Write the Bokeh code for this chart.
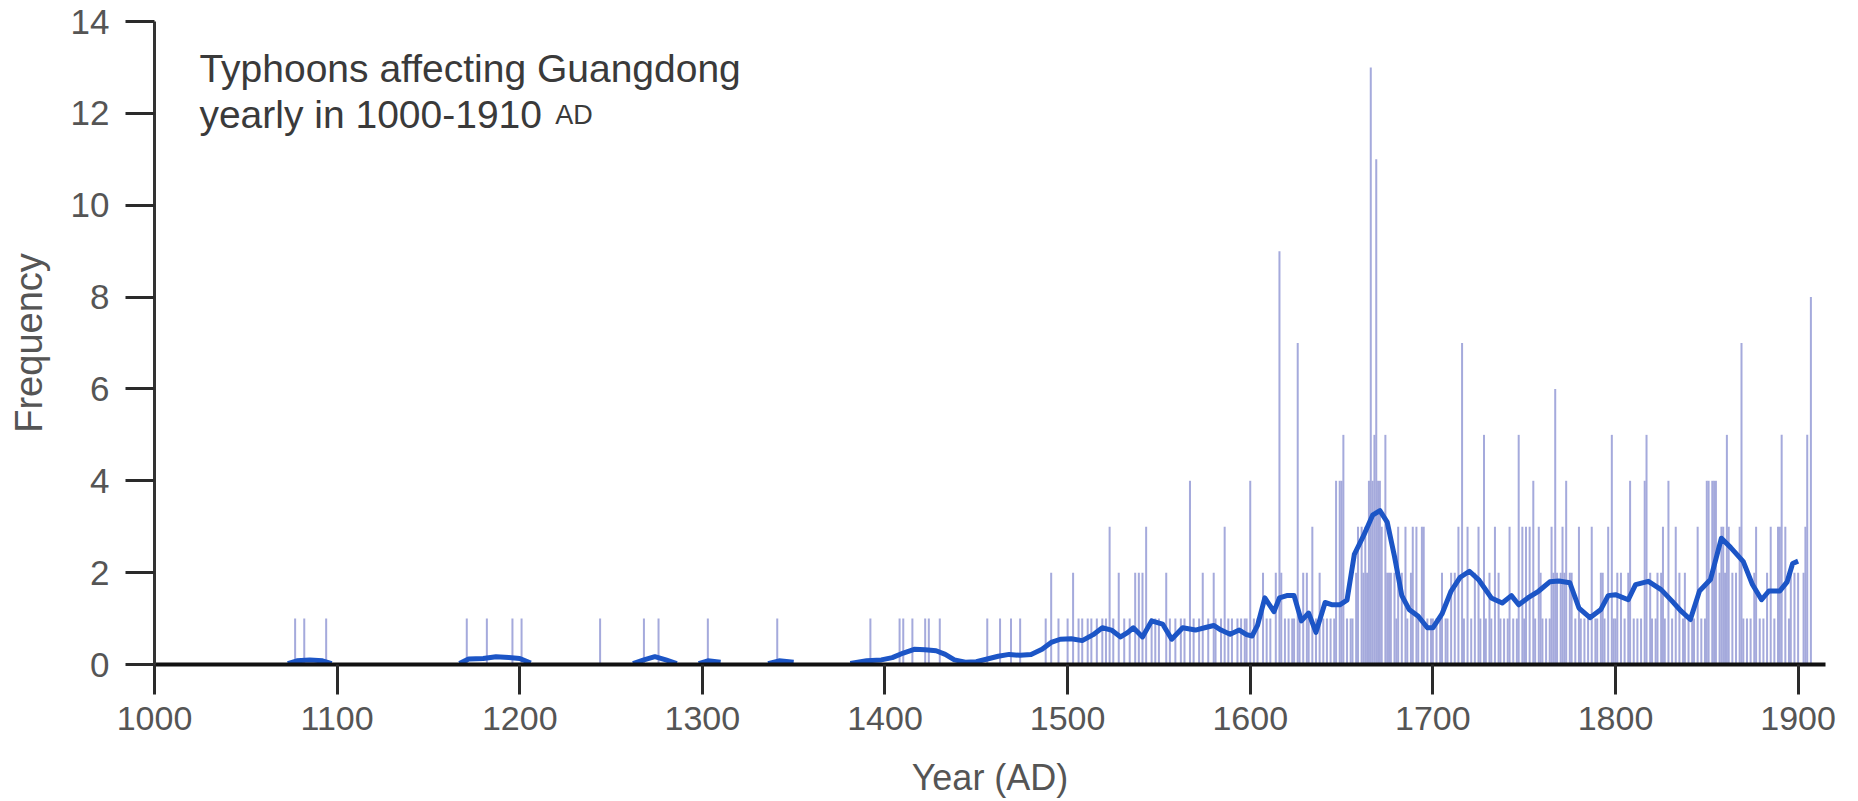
from bokeh.plotting import figure
from bokeh.models import Label, FixedTicker, ColumnDataSource
from bokeh.embed import file_html
from bokeh.resources import INLINE

# ---- data ----
x_ticks = [1000, 1100, 1200, 1300, 1400, 1500, 1600, 1700, 1800, 1900]
y_ticks = [0, 2, 4, 6, 8, 10, 12, 14]

years_early = [1077, 1082, 1094, 1171, 1182, 1196, 1201, 1244, 1268, 1276, 1303, 1341, 1392,
               1408, 1410, 1415, 1422, 1424, 1430, 1456, 1463, 1469, 1474, 1488, 1491, 1495]
counts_early = [1, 1, 1, 1, 1, 1, 1, 1, 1, 1, 1, 1, 1,
                1, 1, 1, 1, 1, 1, 1, 1, 1, 1, 1, 2, 1]

years_1500 = [1500, 1503, 1506, 1508, 1511, 1513, 1516, 1519, 1521, 1523, 1525, 1528, 1531, 1534,
              1537, 1539, 1541, 1543, 1546, 1548, 1550, 1554, 1556, 1559, 1562, 1564, 1567, 1569,
              1572, 1574, 1577, 1580, 1581, 1584, 1586, 1588, 1590, 1593, 1595, 1597, 1598]
counts_1500 = [1, 2, 1, 1, 1, 1, 1, 1, 1, 3, 1, 2, 1, 1,
               2, 2, 2, 3, 1, 1, 1, 2, 1, 1, 1, 1, 4, 1,
               1, 2, 1, 2, 1, 1, 3, 1, 1, 1, 1, 1, 1]

years_1600 = [1600, 1602, 1604, 1607, 1609, 1611, 1614, 1616, 1617, 1619, 1621, 1623, 1624, 1626,
              1627, 1629, 1631, 1632, 1634, 1636, 1638, 1640, 1642, 1644, 1646, 1647, 1649, 1650,
              1651, 1653, 1655, 1656, 1658, 1659, 1661, 1662, 1663, 1664, 1665, 1666, 1667, 1668,
              1669, 1670, 1671, 1672, 1674, 1675, 1676, 1677, 1679, 1680, 1681, 1683, 1685, 1686,
              1688, 1689, 1691, 1692, 1694, 1695, 1697, 1699]
counts_1600 = [4, 1, 1, 2, 1, 1, 2, 9, 2, 1, 1, 1, 1, 7,
               1, 2, 2, 1, 3, 1, 2, 1, 1, 1, 1, 4, 4, 4,
               5, 1, 1, 1, 2, 3, 3, 2, 3, 2, 4, 13, 4, 5,
               11, 4, 4, 3, 5, 2, 2, 2, 2, 1, 3, 2, 3, 1,
               2, 3, 3, 1, 3, 3, 1, 1]

years_1700 = [1700, 1702, 1704, 1705, 1707, 1708, 1710, 1712, 1714, 1716, 1717, 1719, 1721, 1723,
              1725, 1726, 1728, 1729, 1731, 1732, 1734, 1736, 1737, 1739, 1741, 1742, 1744, 1746,
              1747, 1749, 1750, 1751, 1753, 1755, 1756, 1758, 1759, 1760, 1762, 1764, 1765, 1766,
              1767, 1768, 1770, 1771, 1772, 1773, 1775, 1776, 1778, 1780, 1781, 1783, 1785, 1787,
              1789, 1790, 1792, 1793, 1794, 1796, 1798, 1799]
counts_1700 = [1, 1, 1, 2, 1, 1, 2, 2, 3, 7, 1, 3, 1, 2,
               3, 1, 5, 1, 2, 1, 3, 2, 1, 1, 1, 3, 1, 1,
               5, 3, 1, 3, 3, 4, 1, 3, 2, 1, 1, 1, 3, 2,
               6, 2, 2, 3, 2, 4, 2, 2, 1, 3, 1, 1, 1, 3,
               1, 1, 2, 2, 1, 3, 5, 1]

years_1800 = [1800, 1801, 1803, 1805, 1807, 1808, 1810, 1812, 1814, 1816, 1817, 1819, 1820, 1822,
              1823, 1825, 1826, 1827, 1829, 1831, 1833, 1835, 1837, 1838, 1840, 1842, 1843, 1845,
              1847, 1849, 1850, 1851, 1853, 1854, 1855, 1857, 1858, 1859, 1860, 1861, 1862, 1864,
              1866, 1868, 1869, 1870, 1872, 1874, 1876, 1877, 1879, 1881, 1883, 1885, 1887, 1889,
              1890, 1891, 1893, 1895, 1896, 1898, 1900, 1903, 1904, 1905, 1907]
counts_1800 = [1, 2, 2, 1, 2, 4, 1, 1, 1, 4, 5, 2, 1, 1,
               2, 2, 3, 1, 4, 1, 3, 2, 1, 2, 1, 1, 1, 3,
               1, 1, 4, 4, 4, 4, 4, 2, 3, 3, 2, 5, 3, 2,
               2, 3, 7, 1, 1, 1, 2, 3, 1, 1, 2, 3, 1, 3,
               3, 5, 3, 1, 2, 2, 2, 2, 3, 5, 8]

# smoothed curve (NaN = no visible curve)
nan = float("nan")
smooth_years = [1073, 1078, 1085, 1092, 1097, 1098,
                1167, 1172, 1180, 1187, 1194, 1200, 1206, 1207,
                1262, 1268, 1274, 1280, 1286, 1287,
                1298, 1303, 1310, 1311,
                1336, 1342, 1350, 1351,
                1381, 1390, 1398, 1404, 1410, 1416, 1422, 1428, 1433, 1438, 1444, 1450, 1456,
                1462, 1468, 1474, 1480, 1486, 1491, 1496, 1502, 1508, 1514, 1519, 1524, 1529,
                1533, 1536, 1541, 1546, 1552, 1557, 1563, 1570, 1575, 1580, 1584, 1589, 1594,
                1598, 1601, 1604, 1608, 1613, 1616, 1620, 1624, 1628, 1632, 1636, 1641, 1645,
                1649, 1653, 1657, 1662, 1667, 1671, 1675, 1679, 1683, 1687, 1692, 1697, 1700,
                1705, 1710, 1715, 1720, 1725, 1732, 1738, 1743, 1747, 1752, 1758, 1764, 1769,
                1775, 1780, 1786, 1792, 1796, 1800, 1807, 1811, 1818, 1825, 1831, 1836, 1841,
                1846, 1852, 1858, 1863, 1870, 1875, 1880, 1884, 1890, 1894, 1897, 1900]
smooth_values = [0.02, 0.08, 0.10, 0.08, 0.02, nan,
                 0.02, 0.12, 0.13, 0.17, 0.15, 0.13, 0.03, nan,
                 0.02, 0.10, 0.17, 0.10, 0.02, nan,
                 0.02, 0.08, 0.05, nan,
                 0.02, 0.08, 0.05, nan,
                 0.02, 0.08, 0.10, 0.15, 0.25, 0.33, 0.32, 0.30, 0.22, 0.10, 0.05, 0.06, 0.12,
                 0.18, 0.22, 0.20, 0.22, 0.33, 0.48, 0.55, 0.56, 0.52, 0.65, 0.80, 0.75, 0.60,
                 0.70, 0.80, 0.60, 0.95, 0.88, 0.55, 0.80, 0.75, 0.80, 0.85, 0.75, 0.66, 0.75,
                 0.65, 0.62, 0.85, 1.45, 1.15, 1.45, 1.50, 1.50, 0.95, 1.12, 0.70, 1.35, 1.30,
                 1.30, 1.40, 2.40, 2.80, 3.25, 3.35, 3.10, 2.35, 1.50, 1.20, 1.05, 0.80, 0.80,
                 1.10, 1.60, 1.90, 2.03, 1.85, 1.45, 1.34, 1.50, 1.30, 1.45, 1.60, 1.80, 1.82,
                 1.78, 1.23, 1.02, 1.20, 1.50, 1.52, 1.41, 1.74, 1.81, 1.63, 1.38, 1.16, 0.98,
                 1.60, 1.85, 2.75, 2.55, 2.24, 1.74, 1.41, 1.60, 1.60, 1.80, 2.20, 2.25]

bar_years = years_early + years_1500 + years_1600 + years_1700 + years_1800
bar_counts = counts_early + counts_1500 + counts_1600 + counts_1700 + counts_1800

FONT = "Liberation Sans"

p = figure(width=1850, height=800, x_range=(1000, 1915), y_range=(0, 14),
           output_backend="svg", toolbar_location=None,
           min_border_left=154, min_border_right=25, min_border_top=21, min_border_bottom=133,
           background_fill_color="white", border_fill_color="white")
p.outline_line_color = None
p.xgrid.grid_line_color = None
p.ygrid.grid_line_color = None

bars = ColumnDataSource(dict(x=bar_years, top=bar_counts))
p.vbar(x="x", top="top", bottom=0, width=1.1, source=bars,
       fill_color="#a0a5da", line_color=None, fill_alpha=0.95)

p.line(smooth_years, smooth_values, line_color="#1c55c6", line_width=5, line_join="round")

# axes
p.xaxis.ticker = FixedTicker(ticks=x_ticks)
p.yaxis.ticker = FixedTicker(ticks=y_ticks)
for ax in (p.xaxis[0], p.yaxis[0]):
    ax.minor_tick_line_color = None
    ax.major_tick_in = 0
    ax.major_tick_line_width = 3
    ax.major_tick_line_color = "#2a2a2a"
    ax.major_label_text_font = FONT
    ax.major_label_text_color = "#555555"
    ax.axis_label_text_font = FONT
    ax.axis_label_text_font_style = "normal"
    ax.axis_label_text_color = "#555555"

p.xaxis.axis_line_width = 4
p.xaxis.axis_line_color = "#111111"
p.xaxis.major_tick_out = 30
p.xaxis.major_label_standoff = 12
p.xaxis.major_label_text_font_size = "34px"
p.xaxis.axis_label = "Year (AD)"
p.xaxis.axis_label_text_font_size = "36px"
p.xaxis.axis_label_standoff = 24

p.yaxis.axis_line_width = 3
p.yaxis.axis_line_color = "#333333"
p.yaxis.major_tick_out = 29
p.yaxis.major_label_standoff = 16
p.yaxis.major_label_text_font_size = "35px"
p.yaxis.axis_label = "Frequency"
p.yaxis.axis_label_text_font_size = "38px"
p.yaxis.axis_label_standoff = 18

# in-plot title
p.add_layout(Label(x=1024.6, y=12.97, text="Typhoons affecting Guangdong",
                   text_font=FONT, text_font_size="39px", text_color="#3a3a3a",
                   text_baseline="alphabetic"))
p.add_layout(Label(x=1024.6, y=11.97, text="yearly in 1000-1910",
                   text_font=FONT, text_font_size="39px", text_color="#3a3a3a",
                   text_baseline="alphabetic"))
p.add_layout(Label(x=1219.5, y=11.97, text="AD",
                   text_font=FONT, text_font_size="27px", text_color="#3a3a3a",
                   text_baseline="alphabetic"))

open("out.html", "w").write(file_html(p, INLINE))
